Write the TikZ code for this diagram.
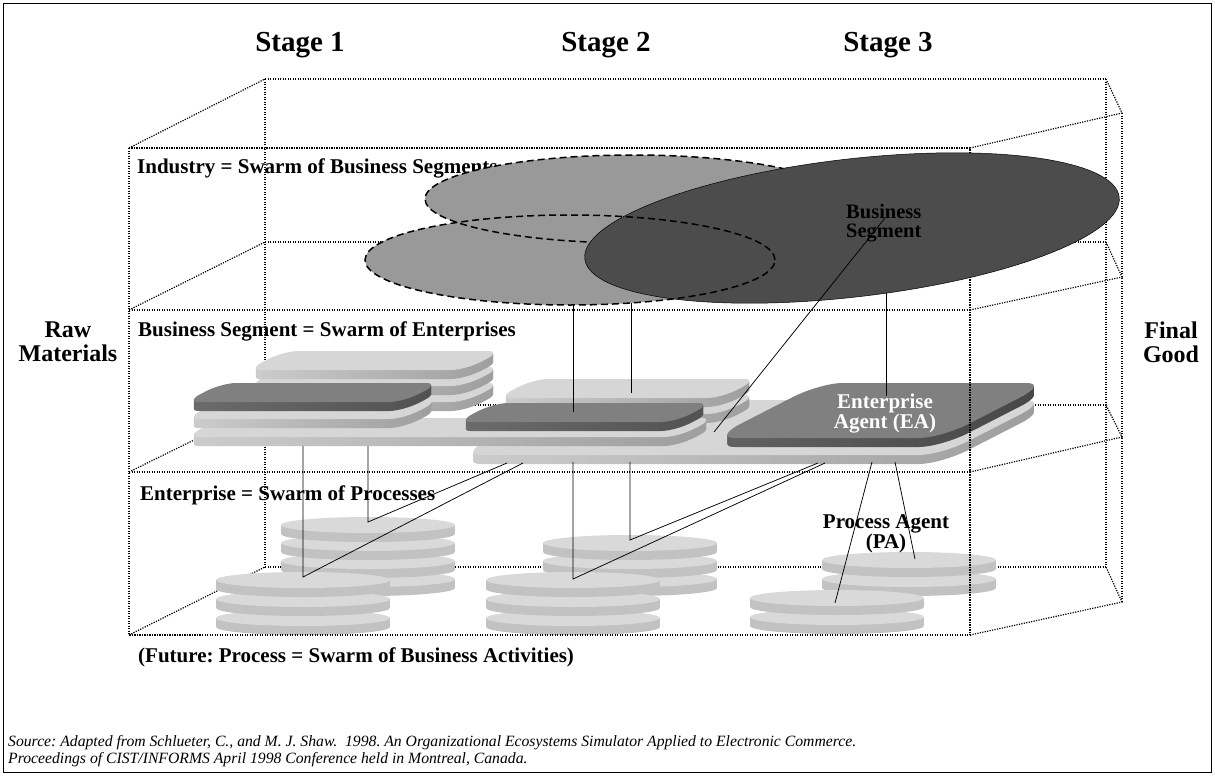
\documentclass[tikz,border=0pt]{standalone}
\usepackage{fontspec}
\setmainfont{Liberation Serif}
\frenchspacing

% rounded top face of a slab in its own frame: #1 width, #2 depth, #3/#4 corner radii
\newcommand\slabface[4]{(#3,0) -- ({#1-#3},0) .. controls ({#1-0.45*#3},0) and (#1,{0.45*#4}) .. (#1,#4) -- (#1,{#2-#4}) .. controls (#1,{#2-0.45*#4}) and ({#1-0.45*#3},#2) .. ({#1-#3},#2) -- (#3,#2) .. controls ({0.45*#3},#2) and (0,{#2-0.45*#4}) .. (0,{#2-#4}) -- (0,#4) .. controls (0,{0.45*#4}) and ({0.45*#3},0) .. (#3,0) -- cycle}

% \slab{x}{y}{width}{depth}{radius u}{radius v}{top style}{side style}
% (x,y) is the front-left corner of the top face; depth recedes up and to the right
\newcommand\slab[8]{%
  \foreach \k in {9,...,1}{%
    \begin{scope}[shift={(#1,#2+\k)}, x={(1pt,0pt)}, y={(1.95pt,1pt)}]
      \path[#8] \slabface{#3}{#4}{#5}{#6};
    \end{scope}}%
  \begin{scope}[shift={(#1,#2)}, x={(1pt,0pt)}, y={(1.95pt,1pt)}]
    \path[#7] \slabface{#3}{#4}{#5}{#6};
  \end{scope}}

% \disk{cx}{cy}: one process disk, (cx,cy) the centre of its top face
\newcommand\disk[2]{%
  \path[diskside] (#1,#2+9) ellipse [x radius=87pt, y radius=8pt];
  \path[diskside] (#1-87,#2) rectangle (#1+87,#2+9);
  \path[disktop] (#1,#2) ellipse [x radius=87pt, y radius=8pt];}

\begin{document}
\begin{tikzpicture}[x=1pt, y=-1pt,
  wire/.style={line width=1.2pt, dash pattern=on 1.2pt off 1.3pt},
  link/.style={line width=0.75pt},
  segfill/.style={fill=black!40},
  segline/.style={line width=1.5pt, dash pattern=on 7pt off 4pt},
  disktop/.style={fill=black!15},
  diskside/.style={fill=black!24},
  lighttop/.style={fill=black!16},
  lightside/.style={left color=black!20, right color=black!38},
  darktop/.style={fill=black!50},
  darkside/.style={left color=black!58, right color=black!68},
  easide/.style={left color=black!62, right color=black!72},
  stagetext/.style={font=\fontsize{29}{30}\selectfont\bfseries, inner sep=0pt},
  layertext/.style={font=\fontsize{21}{24}\selectfont\bfseries, inner sep=0pt, anchor=base west},
  sidetext/.style={font=\fontsize{24}{24}\selectfont\bfseries, inner sep=0pt, align=center},
  agenttext/.style={font=\fontsize{21}{18}\selectfont\bfseries, inner sep=0pt},
  srctext/.style={font=\fontsize{15.7}{17}\selectfont\itshape, inner sep=0pt, anchor=base west}]

\useasboundingbox (0,0) rectangle (1215,776);
\draw[line width=1.3pt] (3.5,3.5) rectangle (1211.5,772.5);

% hidden edges of the three-level box
\draw[wire] (265,79) -- (1106,79) (265,242) -- (1106,242) (265,405) -- (1106,405) (265,567) -- (1106,567);
\draw[wire] (265,79) -- (265,567) (1106,79) -- (1106,567) (1122,113) -- (1122,602);
\foreach \yf/\yb/\yr in {148/79/113, 310/242/277, 472/405/437, 635/567/602}{
  \draw[wire] (129,\yf) -- (265,\yb);
  \draw[wire] (970,\yf) -- (1122,\yr) -- (1106,\yb);
}

% titles and level captions
\node[stagetext] (st1) at (300,45) {Stage 1};
\node[stagetext] (st2) at (606,45) {Stage 2};
\node[stagetext] (st3) at (888,45) {Stage 3};
\node[sidetext] (raw) at (68,342) {Raw\\Materials};
\node[sidetext] (fin) at (1171,342) {Final\\Good};
\node[layertext] (lvind) at (137,173) {Industry = Swarm of Business Segments};
\node[layertext] (lvseg) at (138,336) {Business Segment = Swarm of Enterprises};
\node[layertext] (lvent) at (140,500) {Enterprise = Swarm of Processes};
\node[layertext] (lvfut) at (138,662) {(Future: Process = Swarm of Business Activities)};
\node[srctext] (src1) at (8,746) {Source: Adapted from Schlueter, C., and M. J. Shaw.\ \ 1998. An Organizational Ecosystems Simulator Applied to Electronic Commerce.};
\node[srctext] (src2) at (8,763) {Proceedings of CIST/INFORMS April 1998 Conference held in Montreal, Canada.};

% enterprises (middle level)
\slab{247}{402}{218}{19}{14}{8}{lighttop}{lightside}
\slab{247}{386}{218}{19}{14}{8}{lighttop}{lightside}
\slab{247}{370}{218}{19}{14}{8}{lighttop}{lightside}
\slab{459}{455}{482}{55}{22}{14}{lighttop}{lightside}
\slab{497}{414}{224}{19}{14}{8}{lighttop}{lightside}
\slab{497}{398}{224}{19}{14}{8}{lighttop}{lightside}
\slab{185}{437}{493}{19}{14}{8}{lighttop}{lightside}
\slab{185}{419}{218}{19}{14}{8}{lighttop}{lightside}
\slab{185}{402}{218}{19}{14}{8}{darktop}{darkside}
\slab{457}{422}{218}{19}{14}{8}{darktop}{darkside}
\slab{713}{438}{228}{55}{22}{14}{darktop}{easide}

% processes (bottom level)
\foreach \y in {579,561,543,525}{\disk{368}{\y}}
\foreach \y in {579,561,543}{\disk{630}{\y}}
\foreach \y in {579,560}{\disk{909}{\y}}
\foreach \y in {618,599,580}{\disk{303}{\y}}
\foreach \y in {618,599,580}{\disk{573}{\y}}
\foreach \y in {617,598}{\disk{837}{\y}}

% visible front edges of the box
\draw[wire] (129,148) rectangle (970,635) (129,310) -- (970,310) (129,472) -- (970,472);

% business segments (top level)
\path[segfill] (633,199) ellipse [x radius=208pt, y radius=44pt];
\path[segfill] (570,260) ellipse [x radius=205pt, y radius=45pt];
\draw[segline] (633,199) ellipse [x radius=208pt, y radius=44pt];
\draw[fill=black!70, line width=0.5pt, rotate around={6.6:(852,228)}] (852,228) ellipse [x radius=269pt, y radius=69pt];
\draw[segline] (570,260) ellipse [x radius=205pt, y radius=45pt];

% labels on the agents
\node[agenttext, font=\fontsize{20.5}{19}\selectfont\bfseries, align=left, anchor=west] (bseg) at (846,223) {Business\\Segment};
\node[agenttext, align=center, text=white] (ea) at (885,414) {Enterprise\\Agent (EA)};
\node[agenttext, align=center] (pa) at (886,534) {Process Agent\\(PA)};

% links between the levels
\coordinate (segA) at (573,305); \coordinate (entA) at (573,412);
\coordinate (segB) at (631,303); \coordinate (entB) at (631,393);
\coordinate (segC) at (886,293); \coordinate (entC) at (886,396);
\coordinate (segD) at (885,218); \coordinate (entD) at (714,432);
\coordinate (e1a) at (303,446); \coordinate (p1a) at (303,577); \coordinate (e2x) at (523,463);
\coordinate (e1b) at (368,446); \coordinate (p1b) at (368,522); \coordinate (e2y) at (507,463);
\coordinate (e2a) at (573,462); \coordinate (p2a) at (573,579); \coordinate (e3x) at (825,463);
\coordinate (e2b) at (630,462); \coordinate (p2b) at (630,540); \coordinate (e3y) at (818,463);
\coordinate (e3a) at (872,462); \coordinate (p3a) at (835,603);
\coordinate (e3b) at (895,462); \coordinate (p3b) at (915,559);

\draw[link] (segA) -- (entA);
\draw[link] (segB) -- (entB);
\draw[link] (segC) -- (entC);
\draw[link] (segD) -- (entD);
\draw[link] (e1a) -- (p1a) -- (e2x);
\draw[link] (e1b) -- (p1b) -- (e2y);
\draw[link] (e2a) -- (p2a) -- (e3x);
\draw[link] (e2b) -- (p2b) -- (e3y);
\draw[link] (e3a) -- (p3a);
\draw[link] (e3b) -- (p3b);
\end{tikzpicture}
\end{document}
